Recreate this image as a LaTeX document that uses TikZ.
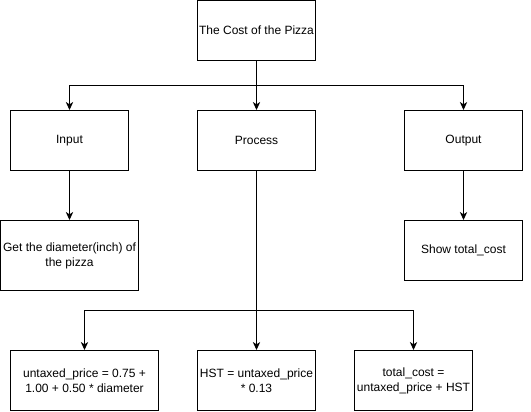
\documentclass[tikz,border=0pt]{standalone}
\usepackage{fontspec}
\setmainfont{Liberation Sans}
\usetikzlibrary{arrows.meta}
\begin{document}
\begin{tikzpicture}[x=0.75pt,y=-0.75pt,
  box/.style={draw=black,line width=0.75pt,fill=white,align=center,inner sep=0pt,
    font=\fontsize{9}{11.25}\selectfont},
  conn/.style={line width=0.75pt,-{Stealth[length=6pt,width=5.5pt,inset=1.8pt]}}]
\useasboundingbox (0,0) rectangle (531,411);
\node[box,minimum width=118*0.75pt,minimum height=60*0.75pt] (top) at (256.5,30.5) {The Cost of the Pizza};
\node[box,minimum width=118*0.75pt,minimum height=60*0.75pt] (in) at (69.5,140.5) {Input};
\node[box,minimum width=118*0.75pt,minimum height=60*0.75pt] (proc) at (256.5,140.5) {Process};
\node[box,minimum width=118*0.75pt,minimum height=60*0.75pt] (out) at (463.5,140.5) {Output};
\node[box,minimum width=138*0.75pt,minimum height=70*0.75pt] (diam) at (69.5,255.5) {Get the diameter(inch) of\\the pizza};
\node[box,minimum width=118*0.75pt,minimum height=60*0.75pt] (show) at (463.5,250.5) {Show total\_cost};
\node[box,minimum width=148*0.75pt,minimum height=60*0.75pt] (untax) at (84.5,380.5) {untaxed\_price = 0.75 +\\1.00 + 0.50 * diameter};
\node[box,minimum width=118*0.75pt,minimum height=60*0.75pt] (hst) at (256.5,380.5) {HST = untaxed\_price\\* 0.13};
\node[box,minimum width=118*0.75pt,minimum height=60*0.75pt] (tot) at (413.5,380.5) {total\_cost =\\untaxed\_price + HST};
\coordinate (b1) at (256.5,85.5);
\coordinate (b2) at (256.5,310.5);
\draw[conn] (top.south) -- (b1) -| (in.north);
\draw[conn] (top.south) -- (proc.north);
\draw[conn] (b1) -| (out.north);
\draw[conn] (in.south) -- (diam.north);
\draw[conn] (out.south) -- (show.north);
\draw[conn] (proc.south) -- (b2) -| (untax.north);
\draw[conn] (proc.south) -- (hst.north);
\draw[conn] (b2) -| (tot.north);
\end{tikzpicture}
\end{document}
